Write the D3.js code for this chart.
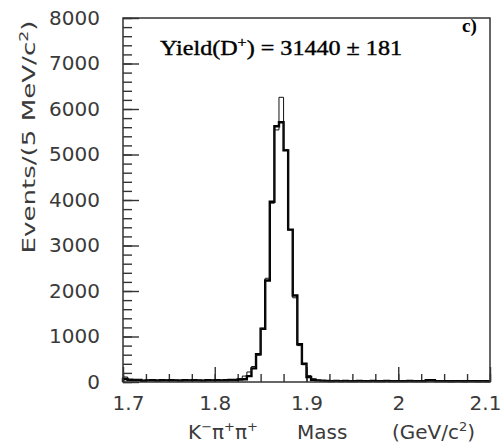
<!DOCTYPE html>
<html><head><meta charset="utf-8">
<script src="https://cdn.jsdelivr.net/npm/d3@7"></script>
<style>
body{margin:0;background:#fff;}
svg{display:block;}
</style></head>
<body>
<svg id="c" width="503" height="447"></svg>
<script>
// Bin lower edges: 1.700 .. 2.095 GeV/c^2, 5 MeV bins
const binStart = 1.7, binWidth = 0.005;
const dataCounts = [
 65,50,45,45,25,35,40,30,40,35,
 40,35,30,40,35,40,35,30,40,35,
 40,35,40,45,45,55,60,130,300,610,
 1170,2230,3960,5620,5710,5090,3350,1900,830,400,
 110,50,35,30,25,20,25,20,25,20,
 20,25,20,20,25,20,20,25,20,20,
 20,20,25,20,20,20,40,40,20,20,
 20,15,20,20,15,20,20,15,20,15
];
const fitCounts = [
 110,45,44,44,43,43,43,42,42,42,
 41,41,41,40,40,40,40,39,39,39,
 39,38,38,38,40,75,130,220,340,590,
 1180,2280,3930,5540,6257,5110,3340,1850,800,380,
 140,70,40,30,28,27,27,26,26,25,
 25,25,24,24,24,24,23,23,23,23,
 23,22,22,22,22,22,22,22,22,21,
 21,21,21,21,21,21,20,20,20,20
];
const xMajor = [1.7,1.8,1.9,2.0,2.1];
const xMajorLabels = ["1.7","1.8","1.9","2","2.1"];
const yMajor = [0,1000,2000,3000,4000,5000,6000,7000,8000];
const yLabel = "Events/(5 MeV/c";
const xTitleParts = ["Mass","(GeV/c"];
const yieldText = "31440 \u00b1 181";

const SANS = "'DejaVu Sans', sans-serif";
const SERIF = "'Liberation Serif', 'DejaVu Serif', serif";
const INK = "#3a3a3a";
const svg = d3.select("#c");
const L=123,R=490,T=18,B=382;
const x = d3.scaleLinear().domain([1.7,2.1]).range([L,R]);
const y = d3.scaleLinear().domain([0,8000]).range([B,T]);

const xMinor = d3.range(0,17).map(i=>+(1.7+i*0.025).toFixed(3));
const yMinor = d3.range(0,41).map(i=>i*200);

function styleAxis(g){
  g.select(".domain").remove();
  g.selectAll(".tick line").attr("stroke","#333").attr("stroke-width",1.4);
}
svg.append("g").attr("transform",`translate(0,${B})`)
  .call(d3.axisBottom(x).tickValues(xMinor).tickSize(-8).tickFormat(""))
  .call(styleAxis);
svg.append("g").attr("transform",`translate(${L},0)`)
  .call(d3.axisLeft(y).tickValues(yMinor).tickSize(-9).tickFormat(""))
  .call(styleAxis);

const gx = svg.append("g").attr("transform",`translate(0,${B})`)
  .call(d3.axisBottom(x).tickValues(xMajor).tickSize(-15).tickPadding(14)
        .tickFormat((d,i)=>xMajorLabels[i]))
  .call(styleAxis);
gx.selectAll("text").style("font-size","20px").style("font-family",SANS).style("fill",INK)
  .attr("dx",(d,i)=> i===0?5:(i===xMajor.length-1?-5:0));

const gy = svg.append("g").attr("transform",`translate(${L},0)`)
  .call(d3.axisLeft(y).tickValues(yMajor).tickSize(-16).tickPadding(23))
  .call(styleAxis);
gy.selectAll("text").style("font-size","20px").style("font-family",SANS).style("fill",INK)
  .text(d=>String(d));

// histograms
function histPts(counts){
  const pts=[[binStart,0]];
  counts.forEach((c,i)=>pts.push([binStart+i*binWidth,c]));
  pts.push([binStart+counts.length*binWidth,counts[counts.length-1]]);
  return pts;
}
const line = d3.line().x(d=>x(d[0])).y(d=>y(d[1])).curve(d3.curveStepAfter);
svg.append("path").attr("d",line(histPts(dataCounts)))
  .attr("fill","none").attr("stroke","#000").attr("stroke-width",2.4);
svg.append("path").attr("d",line(histPts(fitCounts)))
  .attr("fill","none").attr("stroke","#111").attr("stroke-width",1);

// frame
svg.append("rect").attr("x",L).attr("y",T).attr("width",R-L).attr("height",B-T)
  .attr("fill","none").attr("stroke","#333").attr("stroke-width",1.5);

// y title
const yt = svg.append("text").attr("transform","translate(35,137) rotate(-90)")
  .attr("text-anchor","middle").style("font-family",SANS).style("font-size","18px").style("fill",INK);
yt.append("tspan").text(yLabel);
yt.append("tspan").attr("dy",-7).style("font-size","12px").text("2");
yt.append("tspan").attr("dy",7).text(")");
yt.attr("textLength",233).attr("lengthAdjust","spacingAndGlyphs");

// x title
const xt = svg.append("text").attr("x",188).attr("y",439).style("font-family",SANS).style("font-size","20px").style("fill",INK);
xt.append("tspan").text("K");
xt.append("tspan").attr("dy",-8).style("font-size","13px").text("\u2212");
xt.append("tspan").attr("dy",8).text("\u03c0");
xt.append("tspan").attr("dy",-8).style("font-size","13px").text("+");
xt.append("tspan").attr("dy",8).text("\u03c0");
xt.append("tspan").attr("dy",-8).style("font-size","13px").text("+");
svg.append("text").attr("x",297).attr("y",439).style("font-family",SANS).style("font-size","20px").style("fill",INK).text(xTitleParts[0]);
const xt2 = svg.append("text").attr("x",392).attr("y",439).style("font-family",SANS).style("font-size","20px").style("fill",INK);
xt2.append("tspan").text(xTitleParts[1]);
xt2.append("tspan").attr("dy",-8).style("font-size","13px").text("2");
xt2.append("tspan").attr("dy",8).text(")");

// annotation
const ann = svg.append("text").attr("x",160).attr("y",55)
  .style("font-family",SERIF).style("font-size","21px").style("fill","#000")
  .style("stroke","#000").style("stroke-width","0.4px");
ann.append("tspan").text("Yield(D");
ann.append("tspan").attr("dy",-8).style("font-size","14px").text("+");
ann.append("tspan").attr("dy",8).text(") = "+yieldText);
ann.attr("textLength",242).attr("lengthAdjust","spacingAndGlyphs");
svg.append("text").attr("x",462).attr("y",32).style("font-family",SERIF)
  .style("font-size","19px").style("font-weight","bold").style("fill","#000").text("c)");
</script>
</body></html>
